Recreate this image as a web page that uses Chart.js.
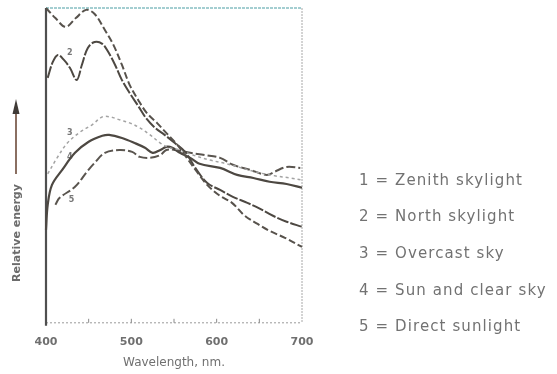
<!DOCTYPE html>
<html>
<head>
<meta charset="utf-8">
<script src="https://cdn.jsdelivr.net/npm/chart.js@4.4.1/dist/chart.umd.min.js"></script>
<style>
  html, body { margin: 0; padding: 0; background: #ffffff; }
  #wrap { width: 557px; height: 374px; }
</style>
</head>
<body>
<div id="wrap"><canvas id="c" width="557" height="374"></canvas></div>
<script>
// Spectral energy distribution of daylight phases (relative energy vs wavelength)
const seriesNames = ['Zenith skylight', 'North skylight', 'Overcast sky', 'Sun and clear sky', 'Direct sunlight'];
const xTickValues = [400, 500, 600, 700];
const minorTickValues = [450, 500, 550, 600, 650];
const xAxisTitle = 'Wavelength, nm.';
const yAxisTitle = 'Relative energy';

const zenithWl  = [400, 411, 423, 435, 447, 457, 469, 479, 489, 498, 508, 518, 530, 542, 554, 565, 577, 590, 604, 618, 633, 648, 662, 680, 700];
const zenithVal = [100, 96.8, 94.0, 96.8, 99.4, 98.1, 93.0, 88.3, 81.9, 75.6, 70.8, 66.7, 63.5, 60.0, 56.5, 52.4, 47.9, 43.5, 40.3, 38.1, 34.0, 31.4, 29.2, 27.0, 24.1];

const northWl  = [402, 408, 414, 421, 428, 436, 442, 449, 457, 466, 473, 481, 489, 498, 508, 517, 528, 539, 551, 563, 575, 589, 604, 619, 636, 651, 666, 682, 700];
const northVal = [77.8, 82.9, 85.1, 83.5, 81.0, 77.1, 81.9, 87.3, 89.2, 88.6, 86.0, 81.9, 77.1, 73.0, 68.9, 65.1, 61.9, 59.7, 57.1, 54.3, 49.2, 44.4, 42.2, 40.0, 38.1, 36.2, 34.0, 32.1, 30.5];

const overcastWl  = [402, 413, 425, 440, 454, 466, 475, 487, 498, 510, 522, 534, 545, 557, 572, 592, 612, 633, 651, 668, 686, 700];
const overcastVal = [47.3, 52.4, 57.1, 60.6, 62.9, 65.4, 65.4, 64.4, 63.5, 61.9, 59.7, 57.1, 55.6, 54.9, 53.3, 51.7, 50.5, 48.9, 47.6, 46.7, 46.0, 45.4];

const sunSkyWl  = [400, 402, 407, 419, 434, 450, 466, 474, 489, 504, 516, 525, 534, 541, 548, 557, 569, 580, 604, 624, 643, 662, 682, 700];
const sunSkyVal = [29.5, 37.5, 43.8, 48.6, 54.0, 57.5, 59.4, 59.7, 58.7, 57.1, 55.6, 54.0, 54.9, 55.9, 55.6, 54.0, 52.4, 50.5, 49.2, 47.0, 46.0, 44.8, 44.1, 42.9];

const directWl  = [411, 416, 434, 448, 457, 469, 486, 501, 510, 522, 534, 541, 551, 569, 586, 604, 619, 639, 653, 660, 668, 682, 698];
const directVal = [37.5, 39.7, 43.2, 48.0, 50.8, 54.0, 54.9, 54.3, 52.7, 52.4, 53.3, 54.9, 54.9, 54.0, 53.3, 52.4, 50.2, 48.6, 47.3, 47.0, 48.0, 49.5, 49.2];

// small curve numbers written beside the left ends of the curves
const curveTagText = ['2', '3', '4', '5'];
const curveTagWl   = [428, 428, 428, 430];
const curveTagVal  = [85.7, 60.3, 52.7, 39.0];

const toPoints = (wl, val) => wl.map((w, i) => ({ x: w, y: val[i] }));

const ink = '#4d4842';
const datasets = [
  { label: seriesNames[0], data: toPoints(zenithWl, zenithVal),     borderColor: '#57524c', borderWidth: 2,   borderDash: [7, 3] },
  { label: seriesNames[1], data: toPoints(northWl, northVal),       borderColor: ink,       borderWidth: 2,   borderDash: [12, 2] },
  { label: seriesNames[2], data: toPoints(overcastWl, overcastVal), borderColor: '#a3a3a3', borderWidth: 1.5, borderDash: [3, 3] },
  { label: seriesNames[3], data: toPoints(sunSkyWl, sunSkyVal),     borderColor: ink,       borderWidth: 2.2 },
  { label: seriesNames[4], data: toPoints(directWl, directVal),     borderColor: '#5a554f', borderWidth: 2,   borderDash: [9, 3] }
].map(d => Object.assign({ pointRadius: 0, tension: 0.35, fill: false, clip: false }, d));

// frame around the plot, minor ticks and curve numbers
const framePlugin = {
  id: 'frame',
  beforeDatasetsDraw(chart) {
    const { ctx, chartArea: a, scales } = chart;
    ctx.save();
    // top edge
    ctx.strokeStyle = '#86bfc2';
    ctx.lineWidth = 1.5;
    ctx.setLineDash([3, 1]);
    ctx.beginPath(); ctx.moveTo(a.left, a.top); ctx.lineTo(a.right, a.top); ctx.stroke();
    // right edge
    ctx.strokeStyle = '#a8a8a8';
    ctx.lineWidth = 1;
    ctx.setLineDash([2, 1]);
    ctx.beginPath(); ctx.moveTo(a.right, a.top); ctx.lineTo(a.right, a.bottom); ctx.stroke();
    // bottom edge
    ctx.strokeStyle = '#9a9a9a';
    ctx.setLineDash([2, 2]);
    ctx.beginPath(); ctx.moveTo(a.left, a.bottom); ctx.lineTo(a.right, a.bottom); ctx.stroke();
    // left edge
    ctx.setLineDash([]);
    ctx.strokeStyle = '#4f4f4f';
    ctx.lineWidth = 2.2;
    ctx.beginPath(); ctx.moveTo(a.left, a.top); ctx.lineTo(a.left, a.bottom + 3); ctx.stroke();
    // minor ticks along the wavelength axis
    ctx.strokeStyle = '#8a8a8a';
    ctx.lineWidth = 1;
    minorTickValues.forEach(v => {
      const px = scales.x.getPixelForValue(v);
      ctx.beginPath(); ctx.moveTo(px, a.bottom); ctx.lineTo(px, a.bottom - 4); ctx.stroke();
    });
    // curve numbers
    ctx.fillStyle = '#777';
    ctx.font = 'bold 8px "DejaVu Sans"';
    ctx.textAlign = 'center';
    ctx.textBaseline = 'middle';
    curveTagText.forEach((t, i) => {
      ctx.fillText(t, scales.x.getPixelForValue(curveTagWl[i]), scales.y.getPixelForValue(curveTagVal[i]));
    });
    ctx.restore();
  }
};

// axis captions, the upward arrow, and the numbered key on the right
const annotatePlugin = {
  id: 'annotate',
  afterDraw(chart) {
    const { ctx, chartArea: a } = chart;
    ctx.save();
    // wavelength caption under the tick labels
    ctx.fillStyle = '#707070';
    ctx.font = '12px "DejaVu Sans"';
    ctx.textAlign = 'center';
    ctx.textBaseline = 'middle';
    ctx.fillText(xAxisTitle, (a.left + a.right) / 2, 363);
    // arrow
    ctx.strokeStyle = '#8a6f62';
    ctx.lineWidth = 2;
    ctx.beginPath(); ctx.moveTo(16, 174); ctx.lineTo(16, 108); ctx.stroke();
    ctx.fillStyle = '#3f3a36';
    ctx.beginPath(); ctx.moveTo(16, 99); ctx.lineTo(12.5, 114); ctx.lineTo(19.5, 114); ctx.closePath(); ctx.fill();
    // vertical caption
    ctx.translate(17, 233);
    ctx.rotate(-Math.PI / 2);
    ctx.fillStyle = '#6c6c6c';
    ctx.font = 'bold 11px "DejaVu Sans"';
    ctx.fillText(yAxisTitle, 0, 0);
    ctx.restore();

    ctx.save();
    ctx.fillStyle = '#727272';
    ctx.font = '15px "DejaVu Sans"';
    if ('letterSpacing' in ctx) ctx.letterSpacing = '1.1px';
    ctx.textAlign = 'left';
    ctx.textBaseline = 'middle';
    chart.data.datasets.forEach((ds, i) => {
      ctx.fillText((i + 1) + ' = ' + ds.label, 359, 181 + i * 36.6);
    });
    ctx.restore();
  }
};

new Chart(document.getElementById('c'), {
  type: 'line',
  data: { datasets },
  options: {
    responsive: false,
    devicePixelRatio: 1,
    animation: false,
    layout: { padding: { left: 46, right: 255, top: 8, bottom: 12 } },
    plugins: { legend: { display: false }, tooltip: { enabled: false } },
    scales: {
      x: {
        type: 'linear',
        min: 400,
        max: 700,
        afterBuildTicks: (scale) => { scale.ticks = xTickValues.map(v => ({ value: v })); },
        ticks: {
          color: '#6f6f6f',
          font: { family: 'DejaVu Sans', size: 11, weight: 'bold' },
          padding: 13,
          maxRotation: 0
        },
        grid: { display: false, drawTicks: false },
        border: { display: false },
        title: { display: false }
      },
      y: { display: false, min: 0, max: 100 }
    }
  },
  plugins: [framePlugin, annotatePlugin]
});
</script>
</body>
</html>
